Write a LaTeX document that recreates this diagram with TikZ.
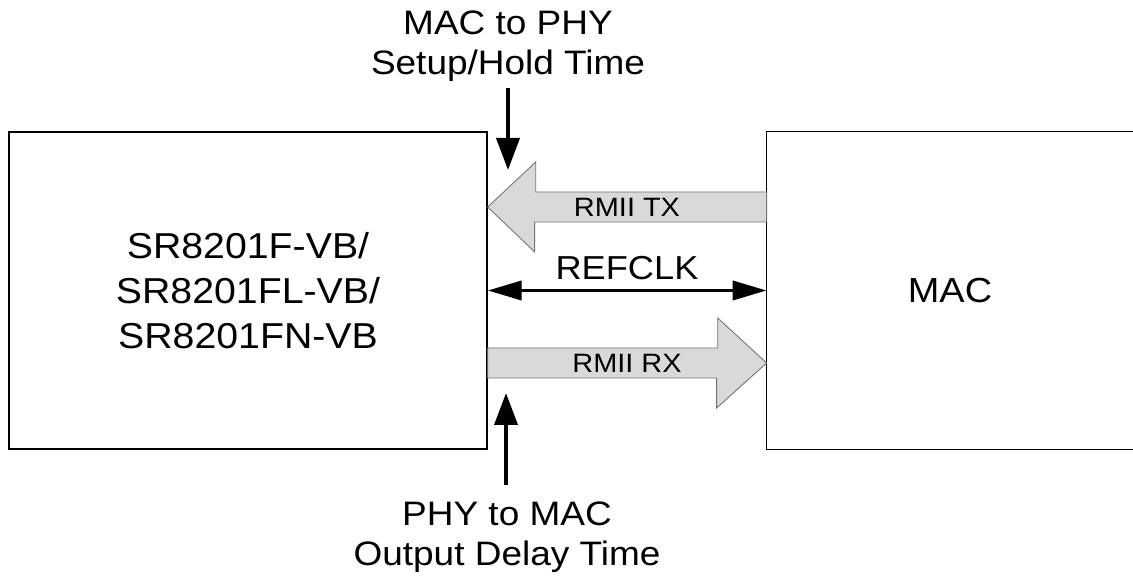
\documentclass[tikz,border=0pt]{standalone}
\usepackage{fontspec}
\setmainfont[FakeStretch=1.09]{Liberation Sans}
\usetikzlibrary{arrows.meta}

\tikzset{
  block/.style={minimum height=6.34cm, align=center, font=\fontsize{20.5}{25.6}\selectfont},
  fatarrow/.style={fill=black!15, draw=black!55, line width=0.5pt},
  sig/.style={line width=2.2pt},
  note/.style={align=center, font=\fontsize{19.3}{22.8}\selectfont},
}

\begin{document}
\begin{tikzpicture}
\useasboundingbox (0,0) rectangle (22.66,11.52);
% the two blocks
\node[draw, block, line width=0.8pt, minimum width=9.56cm] (phy) at (4.96,5.71) {SR8201F-VB/\\SR8201FL-VB/\\SR8201FN-VB};
\node[block, minimum width=7.32cm, font=\fontsize{19.8}{24}\selectfont] (mac) at (19.0,5.71) {MAC};
\draw[line width=0.8pt] (mac.north east) -- (mac.north west) -- (mac.south west) -- (mac.south east);

% RMII TX and RX
\draw[fatarrow] ([yshift=1.67cm]phy.east) -- ++(0.96,0.9) -- ++(0,-0.6) -- ([yshift=1.97cm]mac.west) -- ([yshift=1.37cm]mac.west) -- ++(-4.64,0) -- ++(0,-0.6) -- cycle;
\draw[fatarrow] ([yshift=-1.15cm]phy.east) -- ++(4.6,0) -- ++(0,0.6) -- ([yshift=-1.45cm]mac.west) -- ++(-1.0,-0.9) -- ++(0,0.6) -- ([yshift=-1.75cm]phy.east) -- cycle;
\node[font=\fontsize{15.1}{18}\selectfont] (tx) at (12.54,7.38) {RMII TX};
\node[font=\fontsize{15.1}{18}\selectfont] (rx) at (12.54,4.26) {RMII RX};

% clock
\draw[sig, {Triangle[length=0.68cm,width=0.38cm]}-{Triangle[length=0.68cm,width=0.38cm]}] (phy.east) -- (mac.west);
\node[font=\fontsize{18.9}{22}\selectfont] (clk) at (12.54,6.16) {REFCLK};

% timing notes
\node[note] (setup) at (10.16,10.6) {MAC to PHY\\Setup/Hold Time};
\node[note] (delay) at (10.14,0.78) {PHY to MAC\\Output Delay Time};
\coordinate (txin) at (10.16,8.12);
\coordinate (rxout) at (10.12,3.66);
\draw[sig, -{Triangle[length=0.64cm,width=0.46cm]}] (setup) -- (txin);
\draw[sig, -{Triangle[length=0.64cm,width=0.46cm]}] ([yshift=0.2cm]delay.north -| rxout) -- (rxout);
\end{tikzpicture}
\end{document}
